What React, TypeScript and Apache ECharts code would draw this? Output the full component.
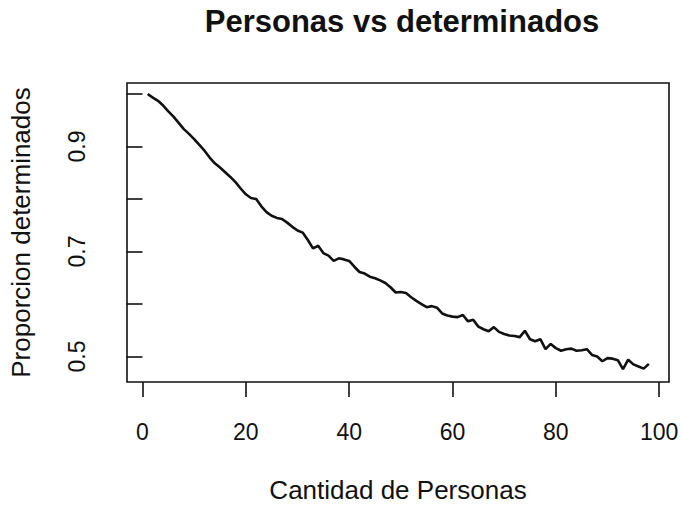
import React, { useEffect, useRef } from "react";
import * as echarts from "echarts";

const title = "Personas vs determinados";
const xName = "Cantidad de Personas";
const yName = "Proporcion determinados";

const personas: number[] = Array.from({ length: 98 }, (_, i) => i + 1);
const proporcion: number[] = [
  1.0, 0.993, 0.987, 0.978, 0.967, 0.957, 0.945, 0.933, 0.924, 0.914,
  0.903, 0.892, 0.879, 0.868, 0.86, 0.851, 0.842, 0.832, 0.82, 0.809,
  0.802, 0.8, 0.786, 0.775, 0.768, 0.764, 0.762, 0.755, 0.747, 0.74,
  0.736, 0.722, 0.706, 0.711, 0.697, 0.692, 0.682, 0.687, 0.685, 0.682,
  0.671, 0.661, 0.658, 0.652, 0.649, 0.645, 0.64, 0.632, 0.622, 0.623,
  0.621, 0.613, 0.606, 0.6, 0.594, 0.596, 0.593, 0.582, 0.578, 0.576,
  0.575, 0.579, 0.567, 0.57, 0.557, 0.552, 0.548, 0.556, 0.547, 0.543,
  0.54, 0.539, 0.537, 0.549, 0.533, 0.529, 0.533, 0.514, 0.524, 0.516,
  0.511, 0.514, 0.515, 0.511, 0.512, 0.514, 0.503, 0.5, 0.491, 0.497,
  0.496, 0.493, 0.476, 0.494, 0.485, 0.481, 0.477, 0.486,
];

const xTicks: number[] = [0, 20, 40, 60, 80, 100];
const yTicks: number[] = [0.5, 0.6, 0.7, 0.8, 0.9, 1.0];
const yTickLabels: number[] = [0.5, 0.7, 0.9];

const FONT = "'Liberation Sans', Arial, Helvetica, sans-serif";
const INK = "#111111";

export default function App() {
  const ref = useRef<HTMLDivElement>(null);
  useEffect(() => {
    if (!ref.current) return;
    const chart = echarts.init(ref.current, undefined, { renderer: "svg" });
    const data = personas.map((x, i) => [x, proporcion[i]]);
    chart.setOption({
      animation: false,
      backgroundColor: "#ffffff",
      title: {
        text: title,
        left: 397,
        top: 1,
        textAlign: "center",
        textStyle: {
          fontFamily: FONT,
          fontWeight: "bold",
          fontSize: 31,
          color: INK,
        },
      },
      grid: {
        left: 126,
        right: 13,
        top: 83,
        bottom: 126,
        show: true,
        borderColor: INK,
        borderWidth: 1.6,
        backgroundColor: "transparent",
      },
      xAxis: {
        type: "value",
        min: -3.0,
        max: 101.9,
        name: xName,
        nameLocation: "middle",
        nameGap: 95,
        nameTextStyle: { fontFamily: FONT, fontSize: 26, color: INK },
        axisLine: { show: false },
        splitLine: { show: false },
        axisTick: {
          show: true,
          length: 15,
          customValues: xTicks,
          lineStyle: { color: INK, width: 1.6 },
        },
        axisLabel: {
          customValues: xTicks,
          margin: 38,
          fontFamily: FONT,
          fontSize: 23,
          color: INK,
        },
      },
      yAxis: {
        type: "value",
        min: 0.4515,
        max: 1.0209,
        name: yName,
        nameLocation: "middle",
        nameGap: 93,
        nameTextStyle: { fontFamily: FONT, fontSize: 26, color: INK },
        axisLine: { show: false },
        splitLine: { show: false },
        axisTick: {
          show: true,
          length: 16,
          customValues: yTicks,
          lineStyle: { color: INK, width: 1.6 },
        },
        axisLabel: {
          customValues: yTickLabels,
          rotate: 90,
          margin: 39,
          align: "center",
          verticalAlign: "bottom",
          fontFamily: FONT,
          fontSize: 23,
          color: INK,
          formatter: (v: number) => v.toFixed(1),
        },
      },
      series: [
        {
          type: "line",
          data,
          showSymbol: false,
          symbol: "none",
          lineStyle: { color: INK, width: 2.6 },
          silent: true,
        },
      ],
    });
    return () => chart.dispose();
  }, []);
  return (
    <div
      ref={ref}
      style={{ position: "fixed", left: 0, top: 0, width: 682, height: 508 }}
    />
  );
}
